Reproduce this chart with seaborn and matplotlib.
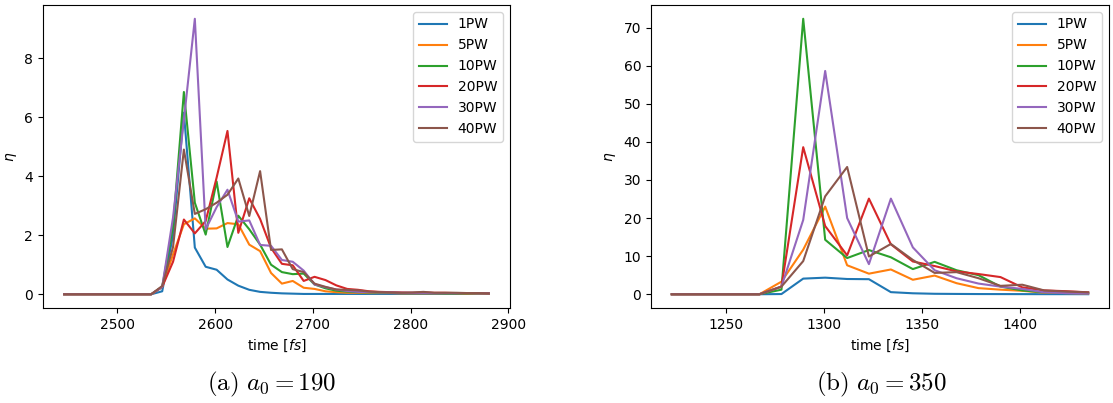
import matplotlib
matplotlib.use("Agg")
import matplotlib.pyplot as plt
import seaborn as sns

# ---- a0 = 190 run -------------------------------------------------------
time_a = [2445.5, 2456.6, 2467.8, 2478.9, 2490.1, 2501.2, 2512.3, 2523.5,
          2534.6, 2545.8, 2556.9, 2568.0, 2579.2, 2590.3, 2601.5, 2612.6,
          2623.7, 2634.9, 2646.0, 2657.2, 2668.3, 2679.4, 2690.6, 2701.7,
          2712.9, 2724.0, 2735.1, 2746.3, 2757.4, 2768.6, 2779.7, 2790.8,
          2802.0, 2813.1, 2824.3, 2835.4, 2846.5, 2857.7, 2868.8, 2880.0]

eta_a_1pw = [0, 0, 0, 0, 0, 0, 0, 0, 0, 0.10, 2.00, 6.15, 1.58, 0.93, 0.83,
             0.50, 0.29, 0.15, 0.08, 0.05, 0.03, 0.02, 0.01, 0.01, 0.01, 0.01,
             0.01, 0.01, 0.01, 0.01, 0.01, 0.01, 0.01, 0.01, 0.01, 0.01, 0.01,
             0.01, 0.01, 0.01]
eta_a_5pw = [0, 0, 0, 0, 0, 0, 0, 0, 0, 0.25, 1.35, 2.37, 2.57, 2.22, 2.23,
             2.41, 2.37, 1.68, 1.46, 0.72, 0.36, 0.45, 0.22, 0.18, 0.10, 0.07,
             0.05, 0.05, 0.04, 0.04, 0.04, 0.03, 0.03, 0.03, 0.03, 0.03, 0.03,
             0.02, 0.02, 0.02]
eta_a_10pw = [0, 0, 0, 0, 0, 0, 0, 0, 0, 0.25, 2.30, 6.85, 3.10, 2.02, 3.82,
              1.60, 2.66, 2.20, 1.68, 1.00, 0.75, 0.68, 0.70, 0.33, 0.20, 0.12,
              0.09, 0.07, 0.06, 0.05, 0.05, 0.04, 0.04, 0.04, 0.04, 0.03, 0.03,
              0.03, 0.03, 0.03]
eta_a_20pw = [0, 0, 0, 0, 0, 0, 0, 0, 0, 0.25, 1.10, 2.53, 2.06, 2.48, 3.95,
              5.53, 2.08, 3.25, 2.55, 1.57, 1.03, 0.98, 0.45, 0.59, 0.48, 0.30,
              0.18, 0.15, 0.10, 0.08, 0.07, 0.06, 0.05, 0.06, 0.05, 0.05, 0.04,
              0.04, 0.04, 0.03]
eta_a_30pw = [0, 0, 0, 0, 0, 0, 0, 0, 0, 0.25, 2.60, 5.90, 9.33, 2.20, 2.95,
              3.54, 2.46, 2.50, 1.67, 1.64, 1.16, 1.10, 0.80, 0.33, 0.24, 0.16,
              0.11, 0.08, 0.07, 0.06, 0.06, 0.05, 0.05, 0.05, 0.04, 0.04, 0.04,
              0.04, 0.03, 0.03]
eta_a_40pw = [0, 0, 0, 0, 0, 0, 0, 0, 0, 0.28, 1.60, 4.90, 2.72, 2.88, 3.10,
              3.37, 3.92, 2.65, 4.17, 1.50, 1.52, 0.85, 0.75, 0.36, 0.25, 0.16,
              0.15, 0.13, 0.09, 0.07, 0.06, 0.05, 0.06, 0.08, 0.05, 0.05, 0.05,
              0.04, 0.04, 0.03]

# ---- a0 = 350 run -------------------------------------------------------
time_b = [1222.4, 1233.6, 1244.7, 1255.9, 1267.1, 1278.3, 1289.4, 1300.6,
          1311.8, 1322.9, 1334.1, 1345.3, 1356.4, 1367.6, 1378.8, 1390.0,
          1401.1, 1412.3, 1423.5, 1434.7]

eta_b_1pw = [0, 0, 0, 0, 0, 0.05, 4.1, 4.35, 4.0, 3.95, 0.55, 0.25, 0.12,
             0.08, 0.05, 0.04, 0.03, 0.02, 0.02, 0.01]
eta_b_5pw = [0, 0, 0, 0, 0, 3.3, 11.7, 23.0, 7.6, 5.4, 6.5, 3.8, 4.9, 2.9,
             1.6, 1.2, 0.9, 0.4, 0.3, 0.2]
eta_b_10pw = [0, 0, 0, 0, 0, 1.2, 72.3, 14.3, 9.5, 11.6, 9.7, 6.6, 8.5, 6.3,
              5.0, 2.0, 1.0, 0.5, 0.4, 0.3]
eta_b_20pw = [0, 0, 0, 0, 0, 2.0, 38.6, 17.9, 10.2, 25.1, 13.1, 8.6, 7.4,
              6.0, 5.3, 4.5, 1.8, 1.0, 0.8, 0.5]
eta_b_30pw = [0, 0, 0, 0, 0, 2.0, 19.5, 58.6, 20.0, 7.9, 25.1, 12.3, 6.3,
              4.2, 2.8, 2.0, 1.4, 0.5, 0.3, 0.2]
eta_b_40pw = [0, 0, 0, 0, 0, 2.0, 8.7, 25.7, 33.4, 9.9, 13.2, 9.0, 5.6, 5.8,
              4.2, 2.2, 2.5, 1.0, 0.7, 0.5]

labels = ["1PW", "5PW", "10PW", "20PW", "30PW", "40PW"]
series_a = [eta_a_1pw, eta_a_5pw, eta_a_10pw, eta_a_20pw, eta_a_30pw, eta_a_40pw]
series_b = [eta_b_1pw, eta_b_5pw, eta_b_10pw, eta_b_20pw, eta_b_30pw, eta_b_40pw]
captions = [r"$\mathrm{(a)}\ a_0 = 190$", r"$\mathrm{(b)}\ a_0 = 350$"]

palette = sns.color_palette("tab10", len(labels))

fig = plt.figure(figsize=(11.13, 4.03), dpi=100)
ax_a = fig.add_axes([0.0386, 0.2357, 0.4196, 0.7519])
ax_b = fig.add_axes([0.5849, 0.2357, 0.4115, 0.7519])

# sub-figure captions sit centred below each panel
caption_x = [0.244, 0.792]

for ax, t, series, cap, cx in [(ax_a, time_a, series_a, captions[0], caption_x[0]),
                               (ax_b, time_b, series_b, captions[1], caption_x[1])]:
    for lab, vals, col in zip(labels, series, palette):
        sns.lineplot(x=t, y=vals, ax=ax, color=col, label=lab, linewidth=1.5)
    ax.legend(loc="upper right")
    ax.set_xlabel(r"time [$fs$]")
    ax.set_ylabel(r"$\eta$")
    fig.text(cx, 0.045, cap, ha="center", va="center",
             fontsize=18, math_fontfamily="cm")

fig.savefig("out.png", dpi=100)
